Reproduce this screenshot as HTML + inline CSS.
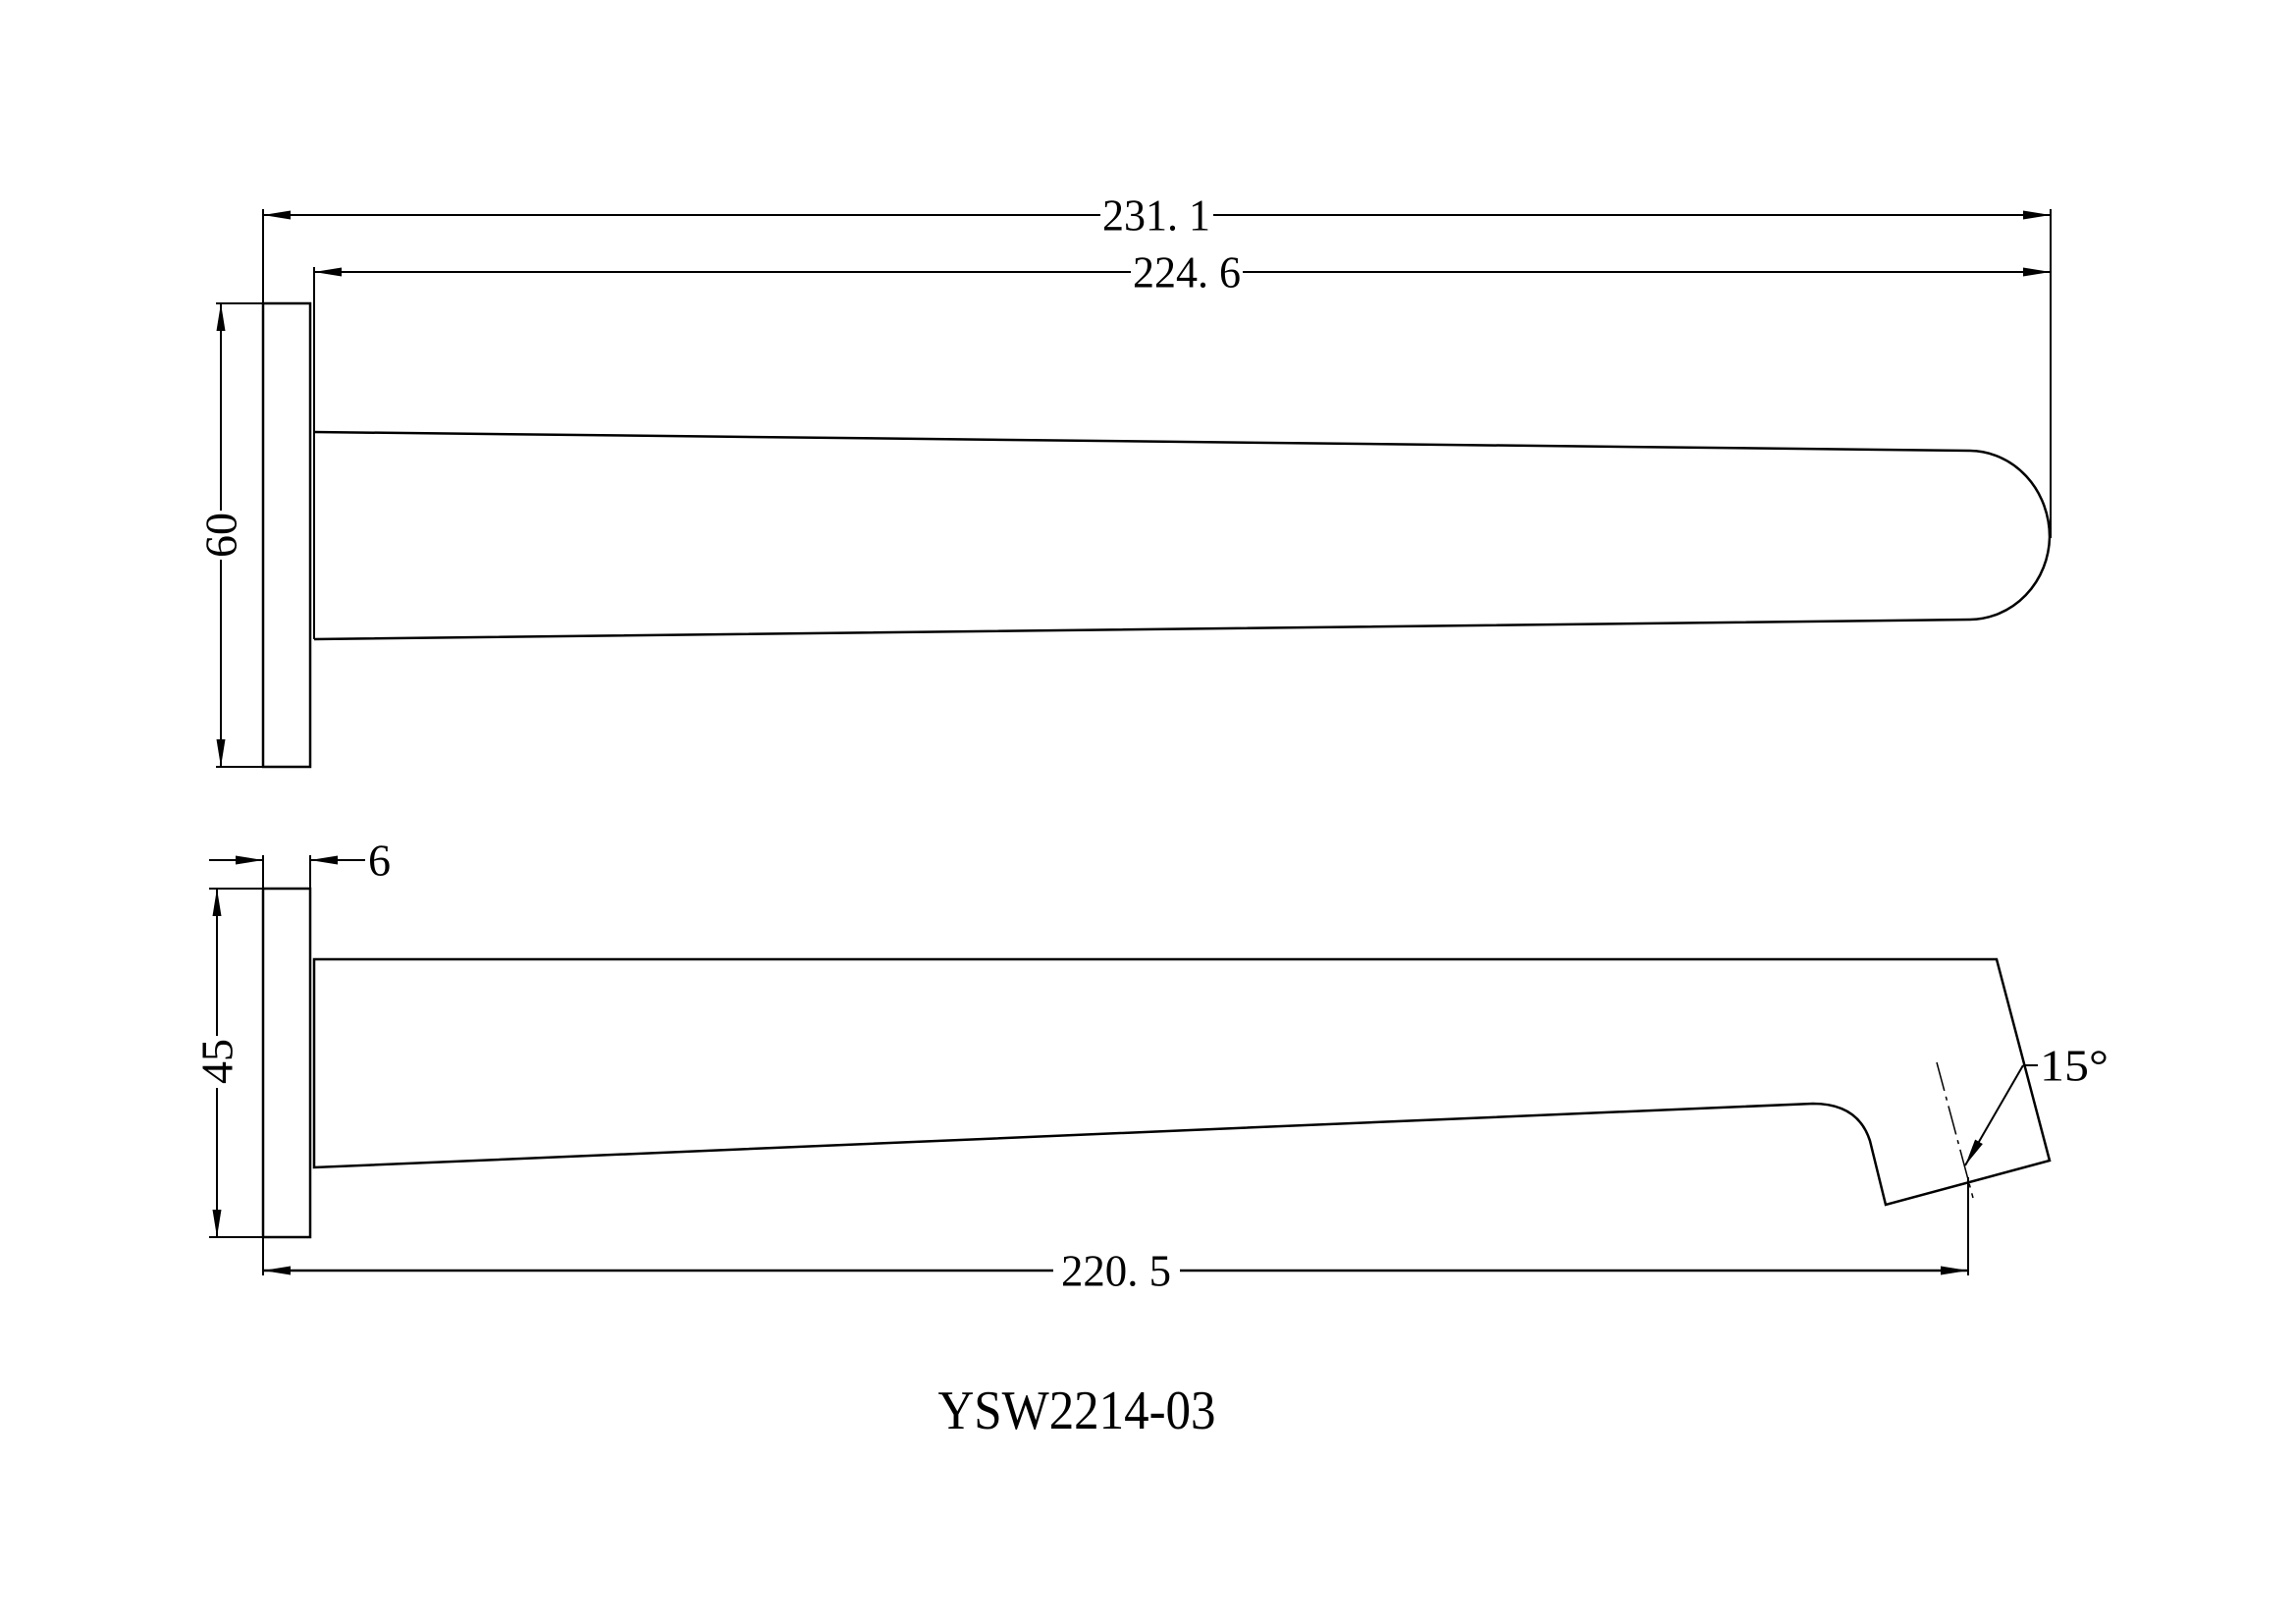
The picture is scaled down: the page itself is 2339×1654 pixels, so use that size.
<!DOCTYPE html>
<html><head><meta charset="utf-8"><style>
html,body{margin:0;padding:0;background:#fff;}
svg{display:block;}
text{font-family:"Liberation Serif",serif;fill:#000;}
</style></head><body>
<svg width="2339" height="1654" viewBox="0 0 2339 1654" xmlns="http://www.w3.org/2000/svg">
<defs>
<marker id="a" viewBox="0 0 28 9" refX="28" refY="4.5" markerWidth="28" markerHeight="9" markerUnits="userSpaceOnUse" orient="auto"><path d="M0,0 L28,4.5 L0,9 Z" fill="#000"/></marker>
</defs>
<g stroke="#000" fill="none" stroke-width="2">
<line x1="268" y1="213" x2="268" y2="309"/>
<line x1="320" y1="272" x2="320" y2="651"/>
<line x1="2089" y1="213" x2="2089" y2="548"/>
<line x1="1121" y1="219" x2="268" y2="219" marker-end="url(#a)"/>
<line x1="1236" y1="219" x2="2089" y2="219" marker-end="url(#a)"/>
<line x1="1152" y1="277" x2="320" y2="277" marker-end="url(#a)"/>
<line x1="1266" y1="277" x2="2089" y2="277" marker-end="url(#a)"/>
<rect x="268" y="309" width="48" height="472" stroke-width="2.5"/>
<line x1="220" y1="309" x2="268" y2="309"/>
<line x1="220" y1="781" x2="268" y2="781"/>
<line x1="225" y1="520" x2="225" y2="309" marker-end="url(#a)"/>
<line x1="225" y1="570" x2="225" y2="781" marker-end="url(#a)"/>
<path d="M320,440 L2007,459 A82,88 0 0 1 2088,547 A82,86 0 0 1 2007,631 L320,651" stroke-width="2.5"/>
<line x1="268" y1="871" x2="268" y2="905"/>
<line x1="316" y1="871" x2="316" y2="905"/>
<line x1="213" y1="876" x2="268" y2="876" marker-end="url(#a)"/>
<line x1="372" y1="876" x2="316" y2="876" marker-end="url(#a)"/>
<rect x="268" y="905" width="48" height="355" stroke-width="2.5"/>
<line x1="213" y1="905" x2="268" y2="905"/>
<line x1="213" y1="1260" x2="268" y2="1260"/>
<line x1="221" y1="1055" x2="221" y2="905" marker-end="url(#a)"/>
<line x1="221" y1="1108" x2="221" y2="1260" marker-end="url(#a)"/>
<path d="M320,977 L2034,977 L2088,1182 L1921,1227 L1905,1162 Q1893,1124 1847,1124 L320,1189 Z" stroke-width="2.5"/>
<line x1="268" y1="1260" x2="268" y2="1299"/>
<line x1="2005" y1="1199" x2="2005" y2="1299"/>
<line x1="1073" y1="1294" x2="268" y2="1294" marker-end="url(#a)" stroke-width="2.5"/>
<line x1="1202" y1="1294" x2="2005" y2="1294" marker-end="url(#a)" stroke-width="2.5"/>
<line x1="1973" y1="1082" x2="2010" y2="1220" stroke-width="1.5" stroke-dasharray="30,6,4,6"/>
<line x1="2061" y1="1085" x2="2076" y2="1085"/>
<line x1="2061" y1="1085" x2="2002" y2="1187" marker-end="url(#a)"/>
</g>
<g font-size="46">
<text x="1178" y="219" text-anchor="middle" dominant-baseline="central" textLength="110" lengthAdjust="spacingAndGlyphs">231. 1</text>
<text x="1209" y="277" text-anchor="middle" dominant-baseline="central" textLength="110" lengthAdjust="spacingAndGlyphs">224. 6</text>
<text x="1137" y="1294" text-anchor="middle" dominant-baseline="central" textLength="112" lengthAdjust="spacingAndGlyphs">220. 5</text>
<text x="375" y="876" dominant-baseline="central">6</text>
<text x="2078" y="1085" dominant-baseline="central" textLength="70" lengthAdjust="spacingAndGlyphs">15°</text>
<text transform="translate(225,545) rotate(-90)" text-anchor="middle" dominant-baseline="central">60</text>
<text transform="translate(221,1081) rotate(-90)" text-anchor="middle" dominant-baseline="central">45</text>
</g>
<text x="1097" y="1437" font-size="56" text-anchor="middle" dominant-baseline="central" textLength="283" lengthAdjust="spacingAndGlyphs">YSW2214-03</text>
</svg>
</body></html>
